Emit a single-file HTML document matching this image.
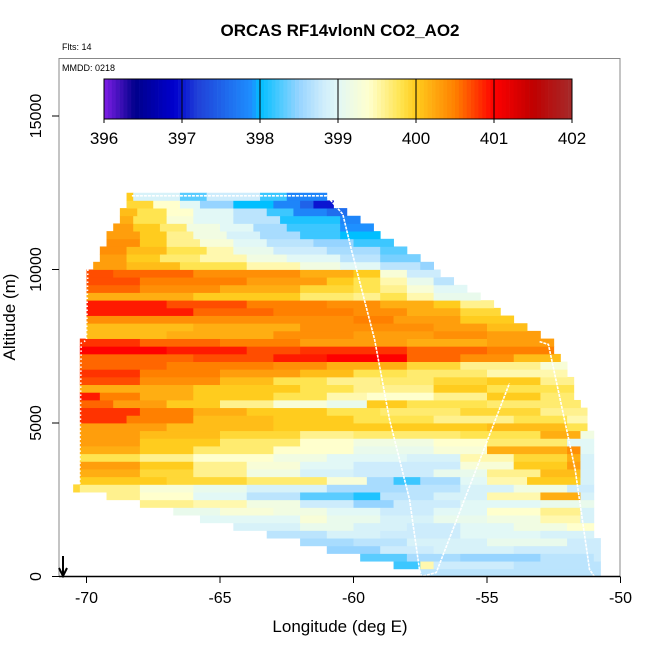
<!DOCTYPE html>
<html><head><meta charset="utf-8"><style>
body{margin:0;background:#fff;}
svg text{font-family:"Liberation Sans",sans-serif;}
</style></head><body>
<svg id="chart" width="650" height="650" xmlns="http://www.w3.org/2000/svg">
<text x="340" y="36" font-size="17" font-weight="bold" text-anchor="middle">ORCAS RF14vlonN CO2_AO2</text>
<text x="62" y="50" font-size="9">Flts: 14</text>
<g id="heat"></g>
<g id="tracks"></g>
<rect x="59" y="58.5" width="561" height="518" fill="none" stroke="#888" stroke-width="1"/>
<line x1="59" y1="576.5" x2="620" y2="576.5" stroke="#000" stroke-width="1.5"/>
<text x="62" y="71" font-size="9">MMDD: 0218</text>
<g id="cbar"></g>
<g id="axes"></g>
<text x="340" y="632" font-size="17" text-anchor="middle">Longitude (deg E)</text>
<text transform="translate(15,317) rotate(-90)" font-size="17" text-anchor="middle">Altitude (m)</text>
<g stroke="#000" stroke-width="2" fill="none">
<line x1="63" y1="556" x2="63" y2="575"/><polyline points="59,568 63,576 67,568"/></g>
</svg>
<script>
// ---- data ----
const rowLeft = [-57.5,-58.5,-59.75,-61,-62,-63.25,-64.5,-65.75,-66.75,-68,-69.25,-70.5,
 -70.25,-70.25,-70.25,-70.25,-70.25,-70.25,-70.25,-70.25,-70.25,-70.25,-70.25,-70.25,-70.25,-70.25,-70.25,-70.25,-70.25,-70.25,-70.25,
 -70,-70,-70,-70,-70,-70,-70,-70,-70,
 -69.75,-69.5,-69.5,-69.25,-69.25,-69,-68.75,-68.75,-68.5,-68.5];
const rowRight = [-50.75,-50.75,-50.75,-50.75,-50.75,-51,-51,-51,-51,-51,-51,-51,-51,-51,-51,-51,-51,-51,-51,
 -51.25,-51.25,-51.25,-51.5,-51.75,-51.75,-51.75,-52,-52,-52.25,-52.5,-52.5,-53,-53.5,-54,-54.5,-54.75,-55.25,-55.75,-56.25,-56.75,
 -57,-57.5,-58,-58.5,-59,-59.25,-59.75,-60.25,-60.75,-61];
// each row: [untilLon, value] runs starting at rowLeft
const rowRuns = [
 [[-50.75,398.7]],
 [[-57.5,398.2],[-57,399.5],[-54,398.8],[-50.75,398.7]],
 [[-58,398.3],[-56,398.6],[-53,398.5],[-51,398.7],[-50.75,398.8]],
 [[-59,398.5],[-57,398.8],[-54,398.9],[-50.75,398.8]],
 [[-60,398.6],[-58,398.7],[-55,398.9],[-52,399.1],[-50.75,398.8]],
 [[-61,398.7],[-59,398.9],[-56,398.8],[-53,399.0],[-51,398.9]],
 [[-62,398.9],[-60,399.1],[-58,398.9],[-56,398.8],[-54,399.0],[-52,399.2],[-51,399.4]],
 [[-64,399.0],[-62,399.0],[-61,399.3],[-59,399.1],[-57,398.9],[-55,399.1],[-53,399.2],[-51.5,399.5],[-51,398.9]],
 [[-65,399.1],[-63,399.3],[-61,399.2],[-59,399.0],[-57,398.8],[-55,399.0],[-53,399.4],[-51.5,399.6],[-51,398.9]],
 [[-66,399.6],[-64,399.5],[-62,399.2],[-60,398.8],[-58.5,398.5],[-56,398.8],[-53,399.0],[-51,399.1]],
 [[-68,399.6],[-66,399.4],[-64,399.0],[-62,398.7],[-60,398.3],[-59,398.1],[-57,398.7],[-55,398.9],[-53,399.5],[-51.5,400.2],[-51,398.9]],
 [[-70.25,399.9],[-68,399.6],[-66,399.3],[-64,399.1],[-61,398.9],[-58,398.6],[-56,398.7],[-54,398.9],[-52,399.2],[-51,398.8]],
 [[-67,400.0],[-64,399.9],[-61,399.7],[-59.5,399.3],[-58.5,398.6],[-57.5,398.2],[-56,398.6],[-55,399.0],[-53.5,399.5],[-51.5,400.0],[-51,398.9]],
 [[-68,400.2],[-66,399.9],[-64,399.6],[-62,399.2],[-60,398.9],[-57,398.8],[-55,399.1],[-53,399.6],[-51.5,400.1],[-51,398.9]],
 [[-68,400.3],[-66,400.0],[-64,399.6],[-62,399.3],[-60,399.0],[-56,398.8],[-54,399.3],[-52,400.0],[-51.5,400.3],[-51,398.9]],
 [[-68,399.8],[-66,399.6],[-63,399.4],[-61,399.2],[-58,399.0],[-56,398.9],[-54,399.5],[-52,399.9],[-51.5,400.2],[-51,398.9]],
 [[-68,400.2],[-66,400.0],[-63,399.7],[-60,399.4],[-57,399.1],[-55,399.3],[-52,400.2],[-51.5,400.4],[-51,399.0]],
 [[-68,400.3],[-65,400.0],[-62,399.7],[-60,399.4],[-57,399.2],[-55,399.4],[-52,399.7],[-51,399.0]],
 [[-68,400.3],[-65,400.1],[-62,399.9],[-60,399.6],[-56,399.7],[-53,399.8],[-51.5,400.2],[-51,399.2]],
 [[-67,400.3],[-63,400.1],[-60,400.0],[-55,400.0],[-52,400.1],[-51.25,399.8]],
 [[-68.5,400.8],[-66,400.5],[-63,400.1],[-60,400.0],[-57,399.8],[-54,399.6],[-52,399.8],[-51.25,399.5]],
 [[-68,400.8],[-66,400.5],[-64,400.2],[-61,400.0],[-59,399.8],[-56,399.7],[-53,399.9],[-51.25,399.6]],
 [[-69,400.6],[-67,400.3],[-65,400.0],[-63,399.6],[-61,399.3],[-59.5,399.1],[-58,400.0],[-55,399.8],[-51.5,399.7]],
 [[-69.5,400.9],[-68,400.5],[-66,400.2],[-63,400.0],[-61,399.8],[-59.5,399.5],[-57,399.4],[-55,399.6],[-53,400.0],[-51.75,399.7]],
 [[-66,400.2],[-62,400.0],[-60,399.8],[-57,399.6],[-55,400.0],[-51.75,399.8]],
 [[-68,400.7],[-65,400.4],[-63,400.1],[-61,399.8],[-59,399.6],[-57,399.7],[-55,399.9],[-53,400.0],[-51.75,399.6]],
 [[-68,400.8],[-65,400.5],[-62,400.3],[-60,400.1],[-58,399.8],[-55,399.7],[-52,399.5]],
 [[-67,400.6],[-63,400.5],[-61,400.4],[-58,400.2],[-56,399.9],[-53,399.6],[-52,399.3]],
 [[-66,400.6],[-63,400.7],[-61,400.9],[-58,401.0],[-56,400.6],[-54,400.4],[-52.25,400.1]],
 [[-67,401.0],[-64,400.9],[-62,400.7],[-58,400.8],[-55,400.6],[-52.5,400.5]],
 [[-68,400.8],[-65,400.6],[-62,400.5],[-58,400.3],[-55,400.2],[-52.5,400.3]],
 [[-67,400.1],[-63,400.2],[-60,400.4],[-57,400.3],[-55,400.4],[-53,400.3]],
 [[-66,400.1],[-62,400.2],[-60,400.4],[-57,400.4],[-55,400.3],[-53.5,400.1]],
 [[-60,400.4],[-58.5,400.5],[-56,400.3],[-54,400.0]],
 [[-66,400.9],[-63,400.6],[-60,400.5],[-58,400.4],[-56,400.2],[-54.5,399.9]],
 [[-67,400.9],[-64,400.7],[-61,400.5],[-59,400.4],[-57,400.2],[-56,400.0],[-54.75,399.6]],
 [[-66,400.2],[-62,400.0],[-60,399.7],[-59,399.6],[-58,399.8],[-57,399.5],[-55.25,399.1]],
 [[-68,400.6],[-65,400.4],[-62,400.2],[-60,399.9],[-59,399.8],[-58,399.6],[-57,399.3],[-55.75,399.0]],
 [[-68,400.7],[-64,400.5],[-61,400.3],[-60,400.0],[-59,399.8],[-58,399.5],[-57,399.1],[-56.25,398.7]],
 [[-69,400.7],[-66,400.6],[-62,400.4],[-60,400.2],[-59,400.0],[-58,399.3],[-56.75,398.8]],
 [[-68.5,400.3],[-66.5,400.1],[-64,399.8],[-62,399.5],[-60.5,399.2],[-59,399.0],[-57.5,398.7],[-57,398.5]],
 [[-68.5,400.3],[-67.25,400.0],[-65.75,399.7],[-64,399.5],[-62.5,399.2],[-60.5,399.0],[-59,398.7],[-57.5,398.4]],
 [[-68.5,400.4],[-67,400.1],[-65.5,399.8],[-64.5,399.5],[-63,399.1],[-61,398.8],[-59,398.6],[-58,398.3]],
 [[-68,400.4],[-67,400.0],[-65.75,399.6],[-64.5,399.3],[-63.25,399.0],[-61.5,398.7],[-60,398.5],[-58.5,398.2]],
 [[-68,400.3],[-67,400.0],[-66,399.6],[-64.75,399.2],[-63.5,398.9],[-62,398.6],[-60.5,398.2],[-59,398.0]],
 [[-68.25,400.3],[-67.25,400.0],[-66.25,399.7],[-65,399.2],[-63.75,399.0],[-62.5,398.6],[-60.5,398.2],[-59.25,397.9]],
 [[-68.25,400.2],[-67,399.8],[-66,399.3],[-64.5,399.0],[-62.75,398.7],[-60.5,398.1],[-59.75,397.8]],
 [[-68.1,400.1],[-67,399.8],[-66,399.4],[-64.5,399.0],[-63.25,398.7],[-62.25,398.2],[-61,397.8],[-60.25,397.6]],
 [[-67.5,399.9],[-66.5,399.4],[-65.75,399.0],[-64.5,398.5],[-63,398.0],[-62,397.8],[-61.5,397.5],[-60.75,397.0]],
 [[-68.25,400.0],[-66.5,398.9],[-65.5,398.3],[-63.5,398.8],[-62.5,398.2],[-61,397.8]]
];
const binSize = 250;
const colorTicks = [396,397,398,399,400,401,402];
const xTicks = [-70,-65,-60,-55,-50];
const yTicks = [0,5000,10000,15000];
const trackALon = [-68.3,-61.0,-60.4,-60.08,-59.21,-58.65,-57.9,-57.53,-57.45,-56.9,-54.16];
const trackAAlt = [12400,12400,11800,10650,7720,5110,2500,230,0,130,6290];
const trackBLon = [-53.03,-52.7,-51.7,-51.16,-50.98];
const trackBAlt = [7650,7560,3490,230,0];
const trackCLon = [-69.95,-70.0,-70.2,-70.25];
const trackCAlt = [10000,7700,7600,3000];

// ---- scales ----
const X = lon => 86.5 + (lon + 70) * 26.7;
const Y = alt => 576.5 - alt * 0.0307;
const stops = [[396,[127,31,230]],[396.4,[0,0,139]],[396.9,[0,0,205]],[397.2,[32,64,216]],[397.9,[30,144,255]],[398.0,[0,191,255]],
 [398.5,[150,212,255]],[398.8,[205,236,252]],[399.0,[226,248,246]],[399.4,[255,255,205]],[399.8,[255,228,80]],[400.0,[255,204,30]],
 [400.5,[255,128,0]],[401.0,[255,0,0]],[401.5,[192,0,0]],[402,[165,42,42]]];
function color(v){
  v=Math.max(396,Math.min(402,v));
  for(let k=0;k<stops.length-1;k++){
    const a=stops[k],b=stops[k+1];
    if(v<=b[0]){const t=(v-a[0])/(b[0]-a[0]);
      const c=a[1].map((q,j)=>Math.round(q+(b[1][j]-q)*t));return `rgb(${c})`;}
  }
  return 'rgb(165,42,42)';
}
const NS='http://www.w3.org/2000/svg';
function mk(tag,attrs,parent){const e=document.createElementNS(NS,tag);for(const k in attrs)e.setAttribute(k,attrs[k]);parent.appendChild(e);return e;}

// ---- heatmap ----
const heat=document.getElementById('heat');
rowRuns.forEach((runs,i)=>{
  let start=rowLeft[i];
  const y0=Y((i+1)*binSize), y1=Y(i*binSize);
  runs.forEach(([until,val])=>{
    const end=Math.min(until,rowRight[i]);
    if(end>start){
      const r=mk('rect',{x:X(start),y:y0,width:X(end)-X(start)+0.4,height:y1-y0+0.4,fill:color(val)},heat);
      
      
    }
    start=Math.max(start,end);
  });
});

// ---- tracks ----
const tr=document.getElementById('tracks');
function track(lons,alts,name,dash){
  const p=mk('polyline',{points:lons.map((l,k)=>X(l)+','+Y(alts[k])).join(' '),fill:'none',stroke:'#fff','stroke-width':1.6,'stroke-dasharray':dash},tr);
  
  
}
track(trackALon,trackAAlt,'track-a','3,1');
track(trackBLon,trackBAlt,'track-b','3,1');
track(trackCLon,trackCAlt,'track-c','1.5,2.5');

// ---- colorbar ----
const cb=document.getElementById('cbar');
const cbX=v=>104+(v-396)*78, cbTop=79, cbBot=119;
for(let v=396;v<402;v+=0.05){
  const r=mk('rect',{x:cbX(v),y:cbTop,width:78*0.05+0.3,height:cbBot-cbTop,fill:color(v+0.025)},cb);
  
  
}
mk('rect',{x:104,y:cbTop,width:468,height:cbBot-cbTop,fill:'none',stroke:'#000','stroke-width':1},cb);
colorTicks.forEach(t=>{
  mk('line',{x1:cbX(t),y1:cbTop,x2:cbX(t),y2:cbBot+4,stroke:'#000','stroke-width':1},cb);
  const tx=mk('text',{x:cbX(t),y:144,'font-size':17,'text-anchor':'middle'},cb);
  tx.textContent=t;
  
  
});

// ---- axes ----
const ax=document.getElementById('axes');
xTicks.forEach(t=>{
  mk('line',{x1:X(t),y1:576.5,x2:X(t),y2:583,stroke:'#000'},ax);
  const tx=mk('text',{x:X(t),y:603,'font-size':16,'text-anchor':'middle'},ax);
  tx.textContent=t;
  
  
});
yTicks.forEach(t=>{
  mk('line',{x1:52,y1:Y(t),x2:59,y2:Y(t),stroke:'#000'},ax);
  const tx=mk('text',{transform:`translate(41,${Y(t)}) rotate(-90)`,'font-size':16,'text-anchor':'middle'},ax);
  tx.textContent=t;
  
  
});
</script>
</body></html>
